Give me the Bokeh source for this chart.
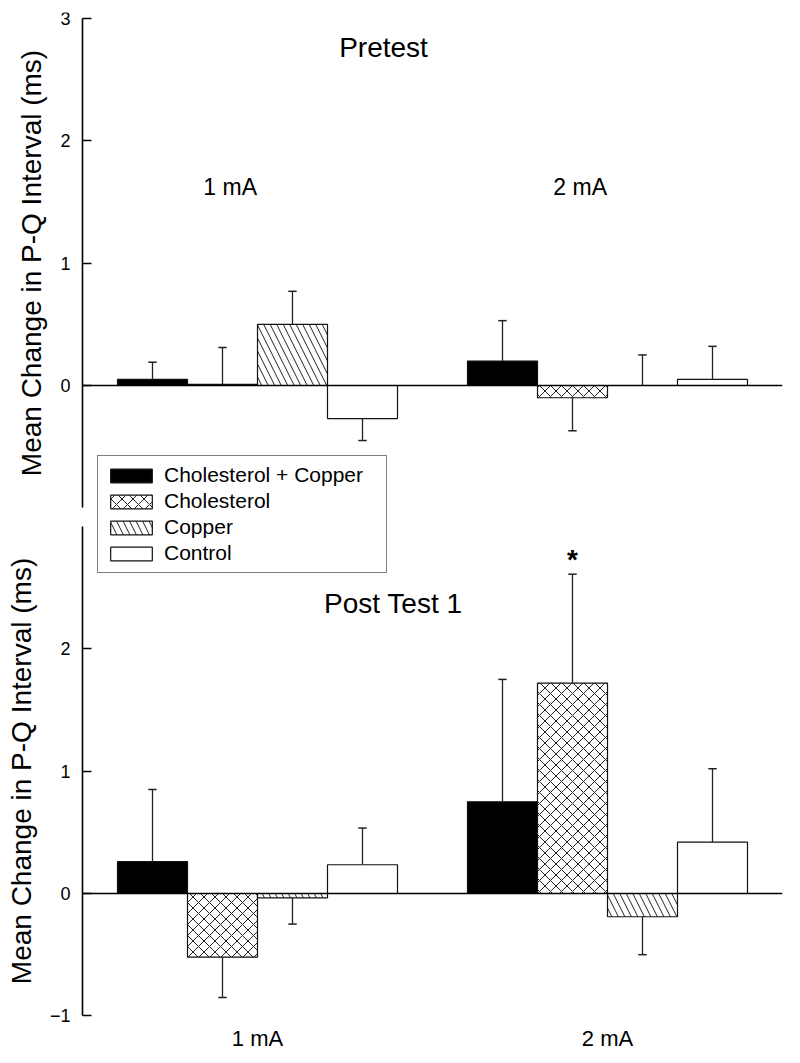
from bokeh.plotting import figure
from bokeh.models import (Range1d, ColumnDataSource, FixedTicker, LinearAxis,
                          Legend, LegendItem)
from bokeh.core.properties import value
from bokeh.embed import file_html
from bokeh.resources import INLINE

# ---------------- data ----------------
series = ["Cholesterol + Copper", "Cholesterol", "Copper", "Control"]
currents = ["1 mA", "2 mA"]
panel_titles = ["Pretest", "Post Test 1"]

pretest_1mA = [0.05, 0.01, 0.50, -0.27]
pretest_2mA = [0.20, -0.10, 0.00, 0.05]
pretest_sem_1mA = [0.14, 0.30, 0.27, 0.18]
pretest_sem_2mA = [0.33, 0.27, 0.25, 0.27]

post1_1mA = [0.26, -0.52, -0.035, 0.235]
post1_2mA = [0.75, 1.72, -0.19, 0.42]
post1_sem_1mA = [0.59, 0.33, 0.215, 0.30]
post1_sem_2mA = [1.00, 0.89, 0.31, 0.60]

pretest_ticks = [0, 1, 2, 3]
post1_ticks = [-1, 0, 1, 2]
axis_extent = (-1, 3)
significant = [(1, 1)]   # (current index, series index) marked with *

y_title = "Mean Change in P-Q Interval (ms)"

# ---------------- styling / layout ----------------
FONT = "Liberation Sans"
fills = ["black", "white", "white", "white"]
hatches = [None, "diagonal_cross", "left_diagonal_line", None]
hatch_scales = [None, 11, 13, None]

PX = 122.34                    # pixels per unit on both panels
frame_h = 1039
pre_end = 373 / PX
pre_start = pre_end - frame_h / PX
post_end = 881 / PX
post_start = post_end - frame_h / PX

x_start, x_end = -82 / 70, 10

p = figure(width=792, height=1055,
           x_range=Range1d(x_start, x_end), y_range=Range1d(pre_start, pre_end),
           output_backend="svg", toolbar_location=None,
           x_axis_location=None, y_axis_location=None,
           min_border_left=0, min_border_right=10, min_border_top=12,
           min_border_bottom=4, outline_line_color=None,
           background_fill_color="white", border_fill_color="white")
p.extra_y_ranges = {"post": Range1d(post_start, post_end)}
p.grid.visible = False

for rn, tk in (("default", pretest_ticks), ("post", post1_ticks)):
    ax = LinearAxis(y_range_name=rn, fixed_location=0, bounds=axis_extent,
                    ticker=FixedTicker(ticks=tk), axis_label=y_title)
    ax.axis_line_color = "black"
    ax.axis_line_width = 1.6
    ax.major_tick_in = 9
    ax.major_tick_out = 0
    ax.major_tick_line_width = 1.5
    ax.major_tick_line_color = "black"
    ax.minor_tick_line_color = None
    ax.major_label_standoff = 12
    ax.major_label_text_font = FONT
    ax.major_label_text_font_size = "18px"
    ax.major_label_text_color = "black"
    ax.axis_label_text_font = FONT
    ax.axis_label_text_font_size = "28px"
    ax.axis_label_text_font_style = "normal"
    ax.axis_label_text_color = "black"
    ax.axis_label_standoff = 10
    p.add_layout(ax, "left")


def draw_panel(means, sems, rn):
    rends = []
    for s, name in enumerate(series):
        xs = [1 + s + 5 * g for g in range(len(currents))]
        tops = [means[g][s] for g in range(len(currents))]
        src = ColumnDataSource(dict(x=xs, top=tops))
        kw = dict(x="x", top="top", bottom=0, width=1, source=src,
                  fill_color=fills[s], line_color="#111111", line_width=1.2,
                  y_range_name=rn)
        if hatches[s]:
            kw.update(hatch_pattern=hatches[s], hatch_scale=hatch_scales[s],
                      hatch_weight=1, hatch_color="#222222")
        rends.append(p.vbar(**kw))
    ex, ey0, ey1 = [], [], []
    for g in range(len(currents)):
        for s in range(len(series)):
            m = means[g][s]
            e = sems[g][s]
            ex.append(1 + s + 5 * g)
            ey0.append(m)
            ey1.append(m + e if m >= 0 else m - e)
    p.segment(x0=ex, y0=ey0, x1=ex, y1=ey1, line_color="#222222",
              line_width=1.3, y_range_name=rn)
    p.segment(x0=[x - 0.06 for x in ex], y0=ey1, x1=[x + 0.06 for x in ex],
              y1=ey1, line_color="#222222", line_width=1.5, y_range_name=rn)
    # zero baseline from the axis to the right edge
    p.segment(x0=[0], y0=[0], x1=[x_end], y1=[0], line_color="black",
              line_width=1.6, y_range_name=rn)
    return rends, ey1


pre_rends, _ = draw_panel([pretest_1mA, pretest_2mA],
                          [pretest_sem_1mA, pretest_sem_2mA], "default")
post_rends, post_ends = draw_panel([post1_1mA, post1_2mA],
                                   [post1_sem_1mA, post1_sem_2mA], "post")

group_centers = [2.5 + 5 * g for g in range(len(currents))]

# panel titles
p.text(x=[4.3], y=[2.76], text=[panel_titles[0]], text_font=value(FONT),
       text_font_size=value("28px"), text_align="center",
       text_baseline="middle", text_color="black")
p.text(x=[4.44], y=[2.37], text=[panel_titles[1]], text_font=value(FONT),
       text_font_size=value("28px"), text_align="center",
       text_baseline="middle", text_color="black", y_range_name="post")

# current labels
p.text(x=[c - 0.39 for c in group_centers], y=[1.62] * 2, text=currents,
       text_font=value(FONT), text_font_size=value("23px"), text_align="center",
       text_baseline="middle", text_color="black")
p.text(x=group_centers, y=[-1.185] * 2, text=currents,
       text_font=value(FONT), text_font_size=value("22px"), text_align="center",
       text_baseline="middle", text_color="black", y_range_name="post")

# significance marker
for g, s in significant:
    idx = g * len(series) + s
    p.text(x=[1 + s + 5 * g], y=[post_ends[idx] + 0.12], text=["*"],
           text_font=value(FONT), text_font_size=value("28px"),
           text_font_style="bold", text_align="center",
           text_baseline="alphabetic", text_color="black",
           y_range_name="post")

legend = Legend(items=[LegendItem(label=n, renderers=[r])
                       for n, r in zip(series, pre_rends)],
                location=(97, 478), orientation="vertical",
                glyph_width=52, glyph_height=17, label_height=20,
                label_width=215, label_standoff=7, spacing=2, padding=7,
                margin=0, border_line_color="black", border_line_width=1.3,
                background_fill_color="white", background_fill_alpha=1,
                label_text_font=FONT, label_text_font_size="21px",
                label_text_color="black")
p.add_layout(legend)

open("out.html", "w").write(file_html(p, INLINE))
